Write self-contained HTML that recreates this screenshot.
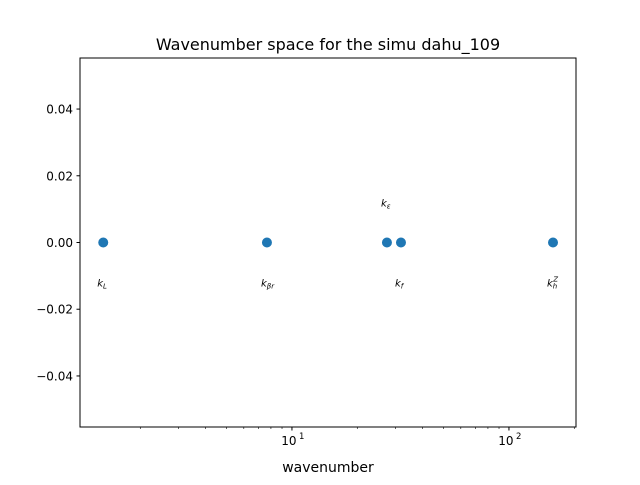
<!DOCTYPE html>
<html><head><meta charset="utf-8"><style>
body{margin:0;background:#fff;font-family:"Liberation Sans","DejaVu Sans",sans-serif}
svg text{font-family:"DejaVu Sans","Liberation Sans",sans-serif}
</style></head><body>
<svg id="c" width="640" height="480" xmlns="http://www.w3.org/2000/svg">
<rect width="640" height="480" fill="#fff"/>
<text x="328" y="50" font-size="16" text-anchor="middle">Wavenumber space for the simu dahu_109</text>
<text x="328" y="472" font-size="14" text-anchor="middle">wavenumber</text>
<g id="g"></g>
<rect x="80" y="58" width="496" height="369" fill="none" stroke="#000" stroke-width="1"/>
</svg>
<script>
const names = ["k_L","k_βr","k_ε","k_f","k_h^Z"];
const kValues = [1.35, 7.67, 27.4, 31.8, 159.6];
const labelOffsets = [-0.012, -0.012, 0.012, -0.012, -0.012];
const yTicks = [-0.04, -0.02, 0, 0.02, 0.04];
const yTickLabels = ["−0.04","−0.02","0.00","0.02","0.04"];
const xMajor = [10, 100];
const xMajorLabels = ["10","10"];

const L=80,R=576,T=58,B=427;
const xmin=Math.log10(1.055), xmax=Math.log10(203.7);
const ymin=-0.0553, ymax=0.0553;
const X=v=>L+(Math.log10(v)-xmin)/(xmax-xmin)*(R-L);
const Y=v=>B-(v-ymin)/(ymax-ymin)*(B-T);
const NS="http://www.w3.org/2000/svg";
const g=document.getElementById('g');
function mk(t,a,txt){const e=document.createElementNS(NS,t);for(const k in a)e.setAttribute(k,a[k]);if(txt!==undefined)e.textContent=txt;g.appendChild(e);return e;}

yTicks.forEach((v,i)=>{
 const y=Y(v);
 const t=mk('line',{x1:L-3.5,x2:L,y1:y,y2:y,stroke:'#000'});
 
 
 const l=mk('text',{x:L-7,y:y+4.5,'font-size':12,'text-anchor':'end'},yTickLabels[i]);
 
 
});
for(let d=1;d<=100;d*=10){for(let m=2;m<=9;m++){const v=d*m;if(v<1.055||v>203.7)continue;
 const x=X(v);const t=mk('line',{x1:x,x2:x,y1:B,y2:B+2,stroke:'#000','stroke-width':0.6});
 
 }}
xMajor.forEach((v,i)=>{
 const x=X(v);
 const t=mk('line',{x1:x,x2:x,y1:B,y2:B+3.5,stroke:'#000'});
 
 
 const l=mk('text',{x:x-3,y:B+18,'font-size':12,'text-anchor':'middle'},xMajorLabels[i]);
 
 
 const s=mk('text',{x:x+7,y:B+12,'font-size':8.5},String(Math.round(Math.log10(v))));
 
 
});
kValues.forEach((v,i)=>{
 const c=mk('circle',{cx:X(v),cy:Y(0),r:5,fill:'#1f77b4'});
 
 
 const n=names[i];const parts=n.match(/k_([^\^]+)(\^(.+))?/);
 const t=mk('text',{x:X(v)-6,y:Y(labelOffsets[i])+4,'font-size':10,'font-style':'italic'});
 
 
 const a=document.createElementNS(NS,'tspan');a.textContent='k';t.appendChild(a);
 const b=document.createElementNS(NS,'tspan');b.setAttribute('font-size','7');b.setAttribute('dy','2');b.textContent=parts[1];t.appendChild(b);
 if(parts[3]){const s=document.createElementNS(NS,'tspan');s.setAttribute('font-size','7');s.setAttribute('dy','-7');s.setAttribute('dx','-4');s.textContent=parts[3];t.appendChild(s);}
});
</script>
</body></html>
